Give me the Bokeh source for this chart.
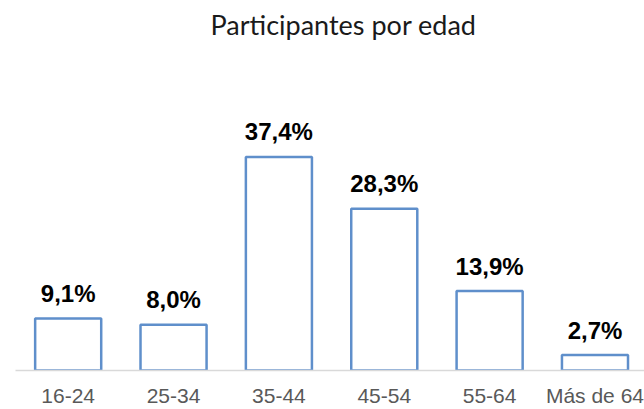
from bokeh.plotting import figure
from bokeh.models import ColumnDataSource, Range1d, FixedTicker
from bokeh.core.properties import value
from bokeh.embed import file_html
from bokeh.resources import INLINE

categories = ["16-24", "25-34", "35-44", "45-54", "55-64", "Más de 64"]
percentages = [9.1, 8.0, 37.4, 28.3, 13.9, 2.7]
labels = ["9,1%", "8,0%", "37,4%", "28,3%", "13,9%", "2,7%"]

positions = list(range(len(categories)))
source = ColumnDataSource(data=dict(x=positions, top=percentages, label=labels))

p = figure(width=644, height=409, output_backend="svg", toolbar_location=None,
           x_range=Range1d(-0.5, 5.47), y_range=Range1d(0, 56.9),
           title="Participantes por edad", min_border_left=15, min_border_right=0,
           min_border_top=0, min_border_bottom=36)

p.title.text_font = "Lato"
p.title.text_font_size = "27px"
p.title.text_font_style = "normal"
p.title.text_color = "#1a1a1a"
p.title.align = "left"
p.title.offset = 195

p.vbar(x="x", top="top", width=0.627, bottom=0, source=source,
       fill_color="white", line_color="#5F8FCB", line_width=2.5)

p.text(x="x", y="top", text="label", source=source,
       text_font=value("Liberation Sans"), text_font_style="bold",
       text_font_size="24px", text_color="black",
       text_align="center", text_baseline="alphabetic", y_offset=-25)

p.yaxis.visible = False
p.xaxis.ticker = FixedTicker(ticks=positions)
p.xaxis.major_label_overrides = {i: c for i, c in enumerate(categories)}
p.xaxis.major_label_text_font = "Liberation Sans"
p.xaxis.major_label_text_font_size = "21px"
p.xaxis.major_label_text_color = "#595959"
p.xaxis.major_label_standoff = 7
p.xaxis.major_tick_line_color = None
p.xaxis.minor_tick_line_color = None
p.xaxis.axis_line_color = "#D9D9D9"
p.xaxis.axis_line_width = 1.5

p.xgrid.visible = False
p.ygrid.visible = False
p.outline_line_color = None
p.background_fill_color = "white"
p.border_fill_color = "white"

open("out.html", "w").write(file_html(p, INLINE))
